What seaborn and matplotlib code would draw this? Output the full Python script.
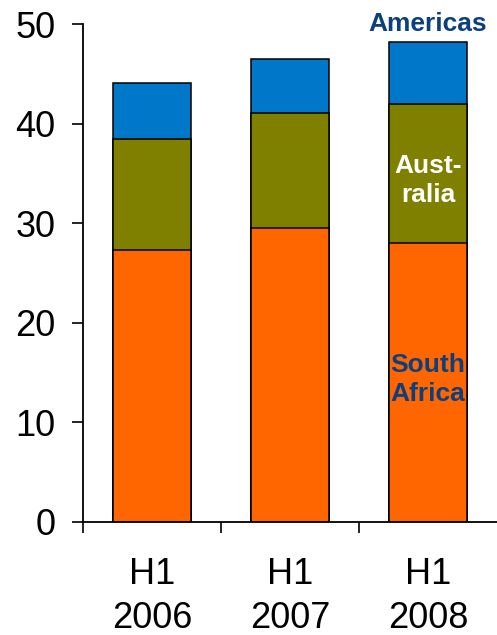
import matplotlib
matplotlib.use("Agg")
import matplotlib.pyplot as plt
import seaborn as sns
import numpy as np
import pandas as pd

# Half-year output by region
periods = ["H1\n2006", "H1\n2007", "H1\n2008"]
south_africa = [27.3, 29.5, 28.0]
australia = [11.2, 11.6, 14.0]
americas = [5.6, 5.4, 6.2]

colors = {"South Africa": "#FF6600", "Australia": "#808000", "Americas": "#0077C8"}
label_blue = "#0B3F80"

sns.set_theme(style="white")
plt.rcParams["font.family"] = ["Liberation Sans", "DejaVu Sans"]

df = pd.DataFrame({
    "period": periods,
    "South Africa": south_africa,
    "Australia": australia,
    "Americas": americas,
})
df["sa_aus"] = df["South Africa"] + df["Australia"]
df["total"] = df["sa_aus"] + df["Americas"]

fig = plt.figure(figsize=(4.97, 6.35), dpi=100)
ax = fig.add_axes([0.167, 0.178, 0.833, 0.784])

bar_kw = dict(width=0.565, edgecolor="black", linewidth=1.1, order=periods, ax=ax)
# Stack by overlaying cumulative totals, tallest first
sns.barplot(data=df, x="period", y="total", color=colors["Americas"], saturation=1, **bar_kw)
sns.barplot(data=df, x="period", y="sa_aus", color=colors["Australia"], saturation=1, **bar_kw)
sns.barplot(data=df, x="period", y="South Africa", color=colors["South Africa"], saturation=1, **bar_kw)

ax.set_xlabel("")
ax.set_ylabel("")
ax.set_xlim(-0.5, 2.5)
ax.set_ylim(0, 50)
ax.set_yticks([0, 10, 20, 30, 40, 50])

ax.set_xticks([0, 1, 2])
ax.set_xticklabels(periods, linespacing=1.33)
ax.set_xticks([-0.5, 0.5, 1.5], minor=True)
ax.tick_params(axis="x", which="major", length=0, pad=25, labelsize=26, colors="black")
ax.tick_params(axis="x", which="minor", length=8, width=1.2, direction="out", color="black", bottom=True)
ax.tick_params(axis="y", which="major", length=8, width=1.2, direction="out", pad=12,
               labelsize=26, colors="black", left=True)

for side in ["top", "right"]:
    ax.spines[side].set_visible(False)
for side in ["left", "bottom"]:
    ax.spines[side].set_color("black")
    ax.spines[side].set_linewidth(1.3)

# Region labels on the latest bar
ax.text(2, 50, "Americas", ha="center", va="center", fontsize=19, fontweight="bold",
        color=label_blue, clip_on=False)
ax.text(2, 34.3, "Aust-\nralia", ha="center", va="center", fontsize=19, fontweight="bold",
        color="white", linespacing=1.22)
ax.text(2, 14.3, "South\nAfrica", ha="center", va="center", fontsize=19, fontweight="bold",
        color=label_blue, linespacing=1.22)

fig.savefig("out.png", dpi=100)
